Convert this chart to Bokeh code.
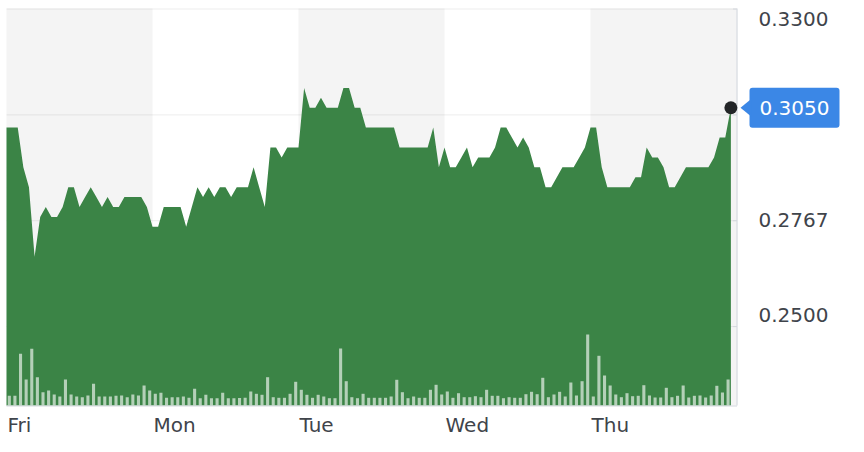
from bokeh.plotting import figure
from bokeh.models import Range1d
from bokeh.core.properties import value
from bokeh.embed import file_html
from bokeh.resources import INLINE

# ---------------- data ----------------
days = ["Fri", "Mon", "Tue", "Wed", "Thu"]
points_per_day = 26

price = [
    # Fri
    0.300, 0.300, 0.300, 0.290, 0.285, 0.2675, 0.2775, 0.280, 0.2775, 0.2775,
    0.280, 0.285, 0.285, 0.280, 0.2825, 0.285, 0.2825, 0.280, 0.2825, 0.280,
    0.280, 0.2825, 0.2825, 0.2825, 0.2825, 0.280,
    # Mon
    0.275, 0.275, 0.280, 0.280, 0.280, 0.280, 0.275, 0.280, 0.285, 0.2825,
    0.285, 0.2825, 0.285, 0.285, 0.2825, 0.285, 0.285, 0.285, 0.290, 0.285,
    0.280, 0.295, 0.295, 0.2925, 0.295, 0.295,
    # Tue
    0.295, 0.310, 0.305, 0.305, 0.3075, 0.305, 0.305, 0.305, 0.310, 0.310,
    0.305, 0.305, 0.300, 0.300, 0.300, 0.300, 0.300, 0.300, 0.295, 0.295,
    0.295, 0.295, 0.295, 0.295, 0.300, 0.290,
    # Wed
    0.295, 0.290, 0.290, 0.2925, 0.295, 0.290, 0.2925, 0.2925, 0.2925, 0.295,
    0.300, 0.300, 0.2975, 0.295, 0.2975, 0.295, 0.290, 0.290, 0.285, 0.285,
    0.2875, 0.290, 0.290, 0.290, 0.2925, 0.295,
    # Thu
    0.300, 0.300, 0.290, 0.285, 0.285, 0.285, 0.285, 0.285, 0.2875, 0.2875,
    0.295, 0.2925, 0.2925, 0.290, 0.285, 0.285, 0.2875, 0.290, 0.290, 0.290,
    0.290, 0.290, 0.2925, 0.2975, 0.2975, 0.305,
]

# volume per interval (thousand shares, estimated)
volume_k = [
    97, 97, 517, 260, 567, 283, 133, 150, 110, 90,
    260, 110, 90, 83, 100, 217, 90, 90, 90, 97,
    100, 83, 110, 100, 200, 150, 117, 127, 77, 83,
    83, 90, 77, 167, 73, 107, 73, 73, 127, 73,
    73, 75, 77, 140, 117, 107, 283, 83, 77, 77,
    117, 237, 157, 107, 77, 107, 90, 73, 73, 570,
    243, 83, 73, 117, 77, 77, 77, 77, 90, 257,
    133, 73, 90, 77, 77, 157, 207, 110, 140, 77,
    123, 83, 83, 93, 83, 157, 97, 97, 73, 83,
    77, 77, 113, 137, 113, 277, 83, 110, 137, 90,
    230, 100, 243, 710, 90, 497, 300, 200, 110, 83,
    123, 93, 97, 203, 100, 80, 80, 177, 83, 97,
    200, 80, 97, 100, 80, 100, 197, 130, 260,
]

y_ticks = [0.2500, 0.27667, 0.30333, 0.3300]
y_tick_labels = ["0.3300", "0.2767", "0.2500"]
y_tick_label_values = [0.3300, 0.27667, 0.2500]
y_min, y_max = 0.23, 0.33
vol_top = 3970          # volume value at the top of the price panel

# ---------------- styling / layout ----------------
GREEN = "#3b8446"
BAND = "#f4f4f4"
AXIS = "#d4d8de"
TEXT = "#3f444b"
BLUE = "#3b87e6"
FONT = "DejaVu Sans"

W, H = 864, 452
PL, PR, PT, PB = 6, 128, 8, 47          # price panel margins in pixels
panel_w = W - PL - PR
panel_h = H - PT - PB

n_total = points_per_day * len(days)
x = list(range(len(price)))
px_x = n_total / panel_w                # data units per pixel
px_y = (y_max - y_min) / panel_h
px_v = vol_top / panel_h

x_start, x_end = -PL * px_x, n_total + PR * px_x
y_start, y_end = y_min - PB * px_y, y_max + PT * px_y

p = figure(width=W, height=H,
           x_range=Range1d(x_start, x_end), y_range=Range1d(y_start, y_end),
           output_backend="svg", toolbar_location=None,
           min_border=0, x_axis_location=None, y_axis_location=None)
p.outline_line_color = None
p.background_fill_color = "white"
p.border_fill_color = "white"
p.xgrid.visible = False
p.ygrid.visible = False

# alternating day bands
band_left = [k * points_per_day for k in range(0, len(days), 2)]
band_right = [b + points_per_day for b in band_left]
p.quad(left=band_left, right=band_right, bottom=y_min, top=y_max,
       fill_color=BAND, line_color=None)

# horizontal grid lines limited to the price panel
grid_y = [t - 0.5 * px_y for t in y_ticks]
p.segment(x0=[0] * len(y_ticks), y0=grid_y,
          x1=[n_total] * len(y_ticks), y1=grid_y,
          line_color="#000000", line_alpha=0.075, line_width=1)

# price area
p.varea(x=x, y1=y_min, y2=price, fill_color=GREEN)

# volume bars
p.extra_y_ranges = {"vol": Range1d(-PB * px_v, vol_top + PT * px_v)}
bar_x = [i + 0.5 for i in range(len(volume_k))]
p.vbar(x=bar_x, top=volume_k, bottom=0, width=0.55, y_range_name="vol",
       fill_color="white", fill_alpha=0.62, line_color=None)

# axis lines and ticks
ax_x = n_total + 0.5 * px_x
p.segment(x0=[ax_x, 0], y0=[y_min, y_min - 0.5 * px_y],
          x1=[ax_x, ax_x], y1=[y_max, y_min - 0.5 * px_y],
          line_color=AXIS, line_width=1.2)
p.segment(x0=[ax_x - 4 * px_x] * len(y_ticks), y0=grid_y,
          x1=[ax_x] * len(y_ticks), y1=grid_y,
          line_color=AXIS, line_width=1)

# last price marker
p.scatter([x[-1]], [price[-1]], size=13, fill_color="#232527",
          line_color=None)

# day labels
p.text(x=[k * points_per_day + 1 * px_x for k in range(len(days))],
       y=[y_min - 19 * px_y] * len(days), text=days,
       text_align="left", text_baseline="middle",
       text_font=value(FONT), text_font_size=value("20px"), text_color=TEXT)

# y tick labels (placed like the reference)
y_label_shift_px = [10.5, 0, -11.5]     # downward shift in pixels
p.text(x=[n_total + 22 * px_x] * len(y_tick_labels),
       y=[v - s * px_y for v, s in zip(y_tick_label_values, y_label_shift_px)],
       text=y_tick_labels, text_align="left", text_baseline="middle",
       text_font=value(FONT), text_font_size=value("20px"), text_color=TEXT)

# last price badge
last = price[-1]
p.quad(left=[n_total + 13 * px_x], right=[n_total + 103 * px_x],
       bottom=[last - 20 * px_y], top=[last + 20 * px_y],
       fill_color=BLUE, line_color=None, border_radius=3)
p.patch(x=[n_total + 4 * px_x, n_total + 15 * px_x, n_total + 15 * px_x],
        y=[last, last + 9 * px_y, last - 9 * px_y],
        fill_color=BLUE, line_color=None)
p.text(x=[n_total + 23 * px_x], y=[last], text=[f"{last:.4f}"],
       text_align="left", text_baseline="middle",
       text_font=value(FONT), text_font_size=value("20px"),
       text_color="white")

open("out.html", "w").write(file_html(p, INLINE))
